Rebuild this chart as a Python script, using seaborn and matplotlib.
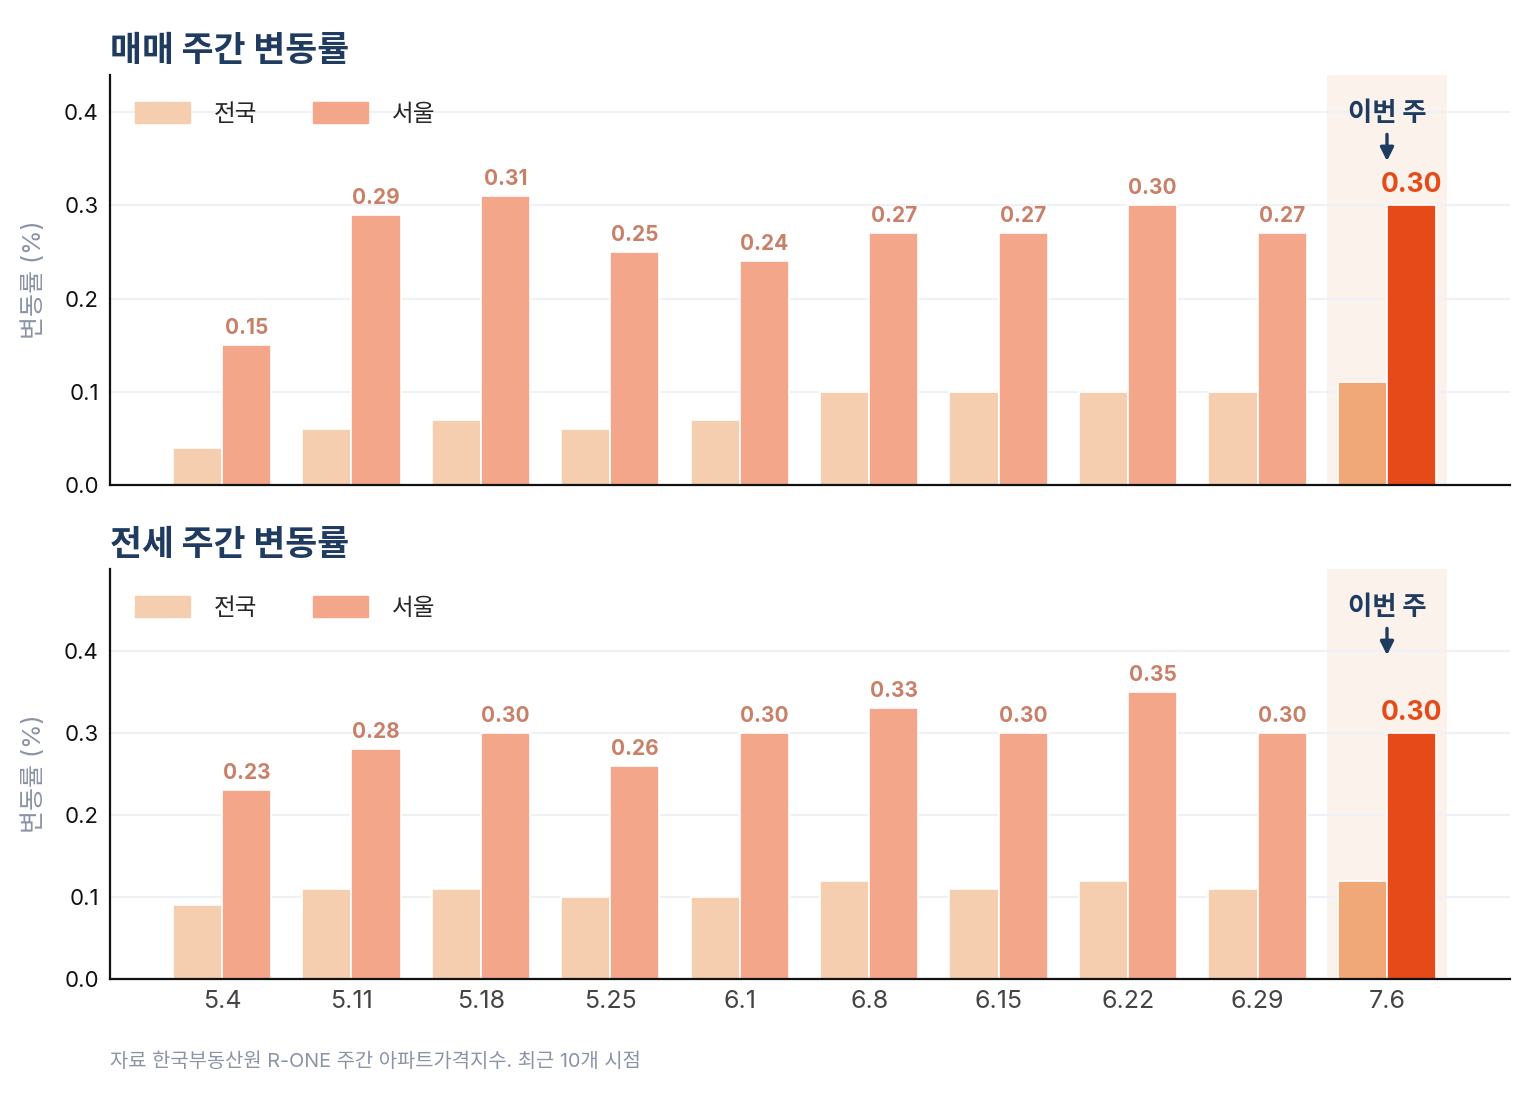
import numpy as np
import pandas as pd
import seaborn as sns
import matplotlib.pyplot as plt
from matplotlib.patches import Patch
from matplotlib import transforms

weeks = ['5.4', '5.11', '5.18', '5.25', '6.1', '6.8', '6.15', '6.22', '6.29', '7.6']
sale_nation = [0.04, 0.06, 0.07, 0.06, 0.07, 0.10, 0.10, 0.10, 0.10, 0.11]
sale_seoul = [0.15, 0.29, 0.31, 0.25, 0.24, 0.27, 0.27, 0.30, 0.27, 0.30]
rent_nation = [0.09, 0.11, 0.11, 0.10, 0.10, 0.12, 0.11, 0.12, 0.11, 0.12]
rent_seoul = [0.23, 0.28, 0.30, 0.26, 0.30, 0.33, 0.30, 0.35, 0.30, 0.30]
titles = ['매매 주간 변동률', '전세 주간 변동률']

c_nation = '#F5CDAF'
c_seoul = '#F4A68B'
c_nation_hi = '#F0A878'
c_seoul_hi = '#E64A19'
c_label = '#C98068'
navy = '#1F3B60'
band = '#FBF2EC'

sns.set_theme(style='white')
plt.rcParams['font.family'] = ['Inter', 'Noto Sans CJK KR', 'DejaVu Sans']

fig = plt.figure(figsize=(15.4, 11.04), dpi=100)
ax1 = fig.add_axes([0.0714, 0.5607, 0.9091, 0.3714])
ax2 = fig.add_axes([0.0714, 0.1132, 0.9091, 0.3714])

panels = [(ax1, sale_nation, sale_seoul, 0.44), (ax2, rent_nation, rent_seoul, 0.5)]
for i, (ax, nat, seo, ytop) in enumerate(panels):
    df = pd.DataFrame({'week': weeks * 2,
                       'region': ['전국'] * len(weeks) + ['서울'] * len(weeks),
                       'value': nat + seo})
    n = len(weeks)
    ax.axvspan(n - 1 - 0.46, n - 1 + 0.46, ymin=0.005, color=band, zorder=0, lw=0)
    sns.barplot(data=df, x='week', y='value', hue='region', hue_order=['전국', '서울'],
                order=weeks, palette=[c_nation, c_seoul], saturation=1, width=0.76,
                edgecolor='white', linewidth=1.2, legend=False, ax=ax, zorder=2)
    ax.containers[0][n - 1].set_facecolor(c_nation_hi)
    ax.containers[1][n - 1].set_facecolor(c_seoul_hi)

    for j, bar in enumerate(ax.containers[1]):
        last = j == n - 1
        ax.annotate(f'{seo[j]:.2f}', (bar.get_x() + bar.get_width() / 2, bar.get_height()),
                    xytext=(0, 5), textcoords='offset points', ha='center', va='bottom',
                    fontsize=19 if last else 15, fontweight='bold',
                    color=c_seoul_hi if last else c_label)

    trans = transforms.blended_transform_factory(ax.transData, ax.transAxes)
    ax.annotate('이번 주', xy=(n - 1, 0.79), xycoords=trans, xytext=(n - 1, 0.905),
                textcoords=trans, ha='center', va='center', fontsize=19,
                fontweight='heavy', color=navy,
                arrowprops=dict(arrowstyle='-|>', color=navy, lw=2.4,
                                mutation_scale=20, shrinkA=3, shrinkB=0))

    ax.set_xlim(-0.865, 9.95)
    ax.set_ylim(0, ytop)
    ax.set_yticks([0, 0.1, 0.2, 0.3, 0.4])
    ax.set_yticklabels(['0.0', '0.1', '0.2', '0.3', '0.4'])
    ax.yaxis.grid(True, color='#EEF1F5', lw=1.5, zorder=0)
    ax.set_axisbelow(True)
    sns.despine(ax=ax)
    for s in ['left', 'bottom']:
        ax.spines[s].set_color('#111111')
        ax.spines[s].set_linewidth(1.6)
    ax.tick_params(axis='both', length=0)
    ax.tick_params(axis='y', labelsize=16, labelcolor='#111111', pad=8)
    ax.tick_params(axis='x', labelsize=18, labelcolor='#444444', pad=8)
    ax.set_xlabel('')
    ax.set_ylabel('변동률 (%)', fontsize=18, color='#8A94A6')
    ax.yaxis.set_label_coords(-0.046, 0.5)

    handles = [Patch(color=c_nation, label='전국'), Patch(color=c_seoul, label='서울')]
    ax.legend(handles=handles, loc='upper left', bbox_to_anchor=(0.003, 0.985), ncol=2,
              frameon=False, fontsize=17, handlelength=2.3, handleheight=0.95,
              handletextpad=1.0, columnspacing=2.4)

    ax.text(0, 1.035, titles[i], transform=ax.transAxes, fontsize=25,
            fontweight='heavy', color=navy, ha='left', va='baseline')

ax1.set_xticklabels([])

fig.text(0.0714, 0.038, '자료 한국부동산원 R-ONE 주간 아파트가격지수. 최근 10개 시점',
         fontsize=14.3, color='#8A94A6', ha='left', va='center')

fig.savefig('out.png', dpi=100)
